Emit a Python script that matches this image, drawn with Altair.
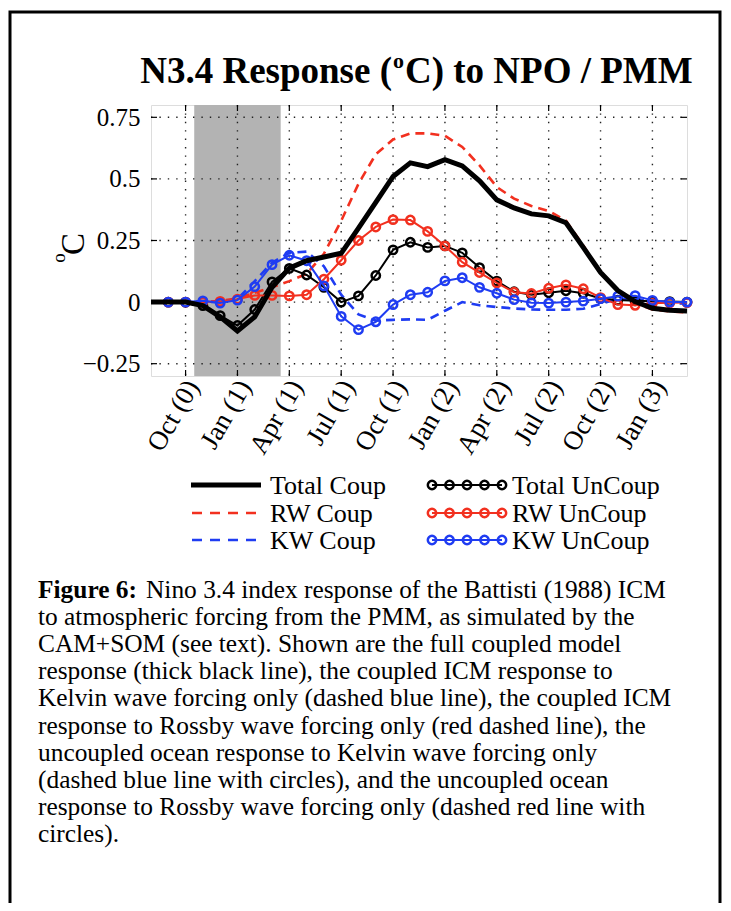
import altair as alt
import pandas as pd

# ---------------- data ----------------
months = list(range(32))          # 0 = Aug(0) ... 31 = Mar(3)
uncoup_months = list(range(1, 32))

total_coup = [0, 0, 0, -0.014, -0.06, -0.117, -0.06, 0.06, 0.138, 0.168, 0.183, 0.198,
              0.3, 0.405, 0.51, 0.565, 0.55, 0.578, 0.553, 0.492, 0.415, 0.382, 0.358,
              0.35, 0.322, 0.222, 0.12, 0.047, 0.002, -0.025, -0.033, -0.036]
rw_coup = [0, 0, 0, 0.0, 0.005, 0.015, 0.038, 0.06, 0.085, 0.115, 0.196, 0.33, 0.48,
           0.6, 0.66, 0.685, 0.685, 0.675, 0.63, 0.555, 0.467, 0.42, 0.39, 0.37, 0.33,
           0.23, 0.12, 0.045, -0.005, -0.03, -0.038, -0.042]
kw_coup = [0, 0, 0, 0.002, 0.0, 0.012, 0.085, 0.16, 0.2, 0.205, 0.145, 0.03, -0.05,
           -0.075, -0.072, -0.07, -0.072, -0.035, 0.0, -0.013, -0.02, -0.026, -0.03,
           -0.031, -0.031, -0.027, -0.008, 0.013, 0.013, 0.004, -0.004, -0.007]
total_uncoup = [0, 0, -0.014, -0.055, -0.095, -0.03, 0.082, 0.137, 0.11, 0.06, 0.0,
                0.025, 0.108, 0.212, 0.243, 0.222, 0.228, 0.2, 0.14, 0.085, 0.042, 0.03,
                0.038, 0.046, 0.036, 0.015, 0.008, 0.005, 0.003, 0.002, 0.0]
rw_uncoup = [0, 0, 0, 0.003, 0.012, 0.027, 0.027, 0.025, 0.03, 0.093, 0.17, 0.25, 0.305,
             0.335, 0.333, 0.287, 0.228, 0.162, 0.12, 0.078, 0.04, 0.035, 0.056, 0.07,
             0.054, 0.018, -0.01, -0.013, -0.005, -0.003, -0.002]
kw_uncoup = [0, 0, 0.005, -0.004, 0.008, 0.063, 0.152, 0.19, 0.168, 0.066, -0.058,
             -0.112, -0.08, -0.01, 0.03, 0.04, 0.086, 0.099, 0.06, 0.036, 0.01, -0.003,
             -0.004, 0.0, 0.004, 0.014, 0.024, 0.026, 0.007, 0.0, 0.0]

tick_months = [2, 5, 8, 11, 14, 17, 20, 23, 26, 29]
tick_labels = ["Oct (0)", "Jan (1)", "Apr (1)", "Jul (1)", "Oct (1)", "Jan (2)",
               "Apr (2)", "Jul (2)", "Oct (2)", "Jan (3)"]
y_ticks = [-0.25, 0, 0.25, 0.5, 0.75]
y_tick_labels = ["\u22120.25", "0", "0.25", "0.5", "0.75"]
shade_span = [2.5, 7.5]

legend_names = ["Total Coup", "RW Coup", "KW Coup", "Total UnCoup", "RW UnCoup", "KW UnCoup"]
title_parts = ["N3.4 Response (", "o", "C) to NPO / PMM"]
caption_lead = "Figure 6:"
caption_lines = [
    "Nino 3.4 index response of the Battisti (1988) ICM",
    "to atmospheric forcing from the PMM, as simulated by the",
    "CAM+SOM (see text).  Shown are the full coupled model",
    "response (thick black line), the coupled ICM response to",
    "Kelvin wave forcing only (dashed blue line), the coupled ICM",
    "response to Rossby wave forcing only (red dashed line), the",
    "uncoupled ocean response to Kelvin wave forcing only",
    "(dashed blue line with circles), and the uncoupled ocean",
    "response to Rossby wave forcing only (dashed red line with",
    "circles).",
]

# ---------------- styling ----------------
W, H = 536, 271
FONT = "Liberation Serif"
RED = "#f2301f"
BLUE = "#1f3cf2"
BLACK = "#000000"

xscale = alt.Scale(domain=[0, 31], nice=False, zero=False)
yscale = alt.Scale(domain=[-0.3, 0.8], nice=False, zero=False)

label_array = [""] * 32
for m, lab in zip(tick_months, tick_labels):
    label_array[m] = lab
x_label_expr = "[" + ",".join("'%s'" % s for s in label_array) + "][datum.value]"
y_label_expr = ("[" + ",".join("'%s'" % s for s in y_tick_labels) + "][indexof(["
                + ",".join(str(v) for v in y_ticks) + "], datum.value)]")

xaxis = alt.Axis(values=tick_months, labelExpr=x_label_expr, labelAngle=300,
                 labelAlign="right", labelBaseline="middle", labelFont=FONT,
                 labelFontSize=27, labelColor=BLACK, labelPadding=6, labelOffset=7,
                 ticks=False, domain=False, grid=False, title=None, labelOverlap=False,
                 labelFlush=False)
yaxis = alt.Axis(values=y_ticks, labelExpr=y_label_expr, labelFont=FONT, labelFontSize=25,
                 labelColor=BLACK, labelPadding=11, ticks=False, domain=False,
                 grid=False, title=None, labelOverlap=False, labelFlush=False)

X = alt.X("month:Q", scale=xscale, axis=xaxis)
Y = alt.Y("value:Q", scale=yscale, axis=yaxis)

layers = []

# shaded forcing period
shade_df = pd.DataFrame({"start": [shade_span[0]], "end": [shade_span[1]]})
layers.append(alt.Chart(shade_df).mark_rect(color="#b3b3b3").encode(
    x=alt.X("start:Q", scale=xscale, axis=xaxis), x2="end:Q",
    y=alt.value(0), y2=alt.value(H)))

# dotted grid
vg = pd.DataFrame({"month": tick_months})
hg = pd.DataFrame({"value": y_ticks})
grid_style = dict(color="#222222", strokeWidth=1.4, strokeDash=[1.4, 7])
layers.append(alt.Chart(vg).mark_rule(**grid_style).encode(
    x=X, y=alt.value(0), y2=alt.value(H)))
layers.append(alt.Chart(hg).mark_rule(**grid_style).encode(
    y=Y, x=alt.value(0), x2=alt.value(W)))

# inward ticks
tk = dict(color=BLACK, strokeWidth=1.2)
layers.append(alt.Chart(hg).mark_rule(**tk).encode(y=Y, x=alt.value(0), x2=alt.value(6)))
layers.append(alt.Chart(hg).mark_rule(**tk).encode(y=Y, x=alt.value(W - 6), x2=alt.value(W)))
layers.append(alt.Chart(vg).mark_rule(**tk).encode(x=X, y=alt.value(H - 6), y2=alt.value(H)))
layers.append(alt.Chart(vg).mark_rule(**tk).encode(x=X, y=alt.value(0), y2=alt.value(6)))


def sdf(xs, ys):
    return pd.DataFrame({"month": xs, "value": ys})


def coup_line(ys, color, width, dash=None):
    kw = dict(color=color, strokeWidth=width, clip=True)
    if dash:
        kw["strokeDash"] = dash
    return alt.Chart(sdf(months, ys)).mark_line(**kw).encode(x=X, y=Y)


def uncoup(ys, color):
    d = sdf(uncoup_months, ys)
    ln = alt.Chart(d).mark_line(color=color, strokeWidth=2).encode(x=X, y=Y)
    pt = alt.Chart(d).mark_point(shape="circle", filled=False, color=color,
                                 strokeWidth=2.5, size=70, opacity=1).encode(x=X, y=Y)
    return [ln, pt]


layers.append(coup_line(rw_coup, RED, 2.6, [9, 6]))
layers.append(coup_line(kw_coup, BLUE, 2.6, [9, 6]))
layers += uncoup(total_uncoup, BLACK)
layers += uncoup(rw_uncoup, RED)
layers += uncoup(kw_uncoup, BLUE)
layers.append(coup_line(total_coup, BLACK, 5))

# ---------------- annotations (chart-pixel coordinates) ----------------
one = pd.DataFrame({"a": [0]})


def text(t, x, y, size, bold=False, align="left", baseline="alphabetic", angle=0):
    kw = dict(font=FONT, fontSize=size, color=BLACK, align=align, baseline=baseline)
    if bold:
        kw["fontWeight"] = "bold"
    if angle:
        kw["angle"] = angle
    return alt.Chart(one).mark_text(**kw).encode(
        x=alt.value(x), y=alt.value(y), text=alt.value(t))


# title
layers.append(text(title_parts[0], 241, -22, 37, bold=True, align="right"))
layers.append(text(title_parts[1], 242, -37, 22, bold=True))
layers.append(text(title_parts[2], 254, -22, 37, bold=True))

# y-axis title (degrees C)
layers.append(text("C", -67, 139, 33, angle=270, align="center"))
layers.append(text("o", -86, 153, 19, angle=270, align="center"))

# legend
rows = [380, 408, 435]
for i, name in enumerate(legend_names[:3]):
    layers.append(text(name, 119, rows[i] + 9, 26))
for i, name in enumerate(legend_names[3:]):
    layers.append(text(name, 361, rows[i] + 9, 26))

layers.append(alt.Chart(one).mark_rule(color=BLACK, strokeWidth=5).encode(
    x=alt.value(40), x2=alt.value(110), y=alt.value(rows[0])))
layers.append(alt.Chart(one).mark_rule(color=RED, strokeWidth=2.6, strokeDash=[10, 8]).encode(
    x=alt.value(41), x2=alt.value(110), y=alt.value(rows[1])))
layers.append(alt.Chart(one).mark_rule(color=BLUE, strokeWidth=2.6, strokeDash=[10, 8]).encode(
    x=alt.value(41), x2=alt.value(110), y=alt.value(rows[2])))

for i, col in enumerate([BLACK, RED, BLUE]):
    layers.append(alt.Chart(one).mark_rule(color=col, strokeWidth=2).encode(
        x=alt.value(281), x2=alt.value(351), y=alt.value(rows[i])))
    for k in range(5):
        layers.append(alt.Chart(one).mark_point(shape="circle", filled=False, color=col,
                                                strokeWidth=2.5, size=70, opacity=1).encode(
            x=alt.value(281 + 17.5 * k), y=alt.value(rows[i])))

# caption
cap_y0 = 493
CAP = 25.4
layers.append(text(caption_lead, -113, cap_y0, CAP, bold=True))
for i, line in enumerate(caption_lines):
    xpos = -5 if i == 0 else -113
    layers.append(text(line, xpos, cap_y0 + 27.1 * i, CAP))

# outer frame
layers.append(alt.Chart(one).mark_rect(fill=None, stroke=BLACK, strokeWidth=3).encode(
    x=alt.value(-141), x2=alt.value(569), y=alt.value(-93), y2=alt.value(830)))

chart = alt.layer(*layers).properties(
    width=W, height=H,
    padding={"left": 143, "top": 97, "right": 36, "bottom": 527},
    autosize=alt.AutoSizeParams(type="none"),
).configure_view(stroke=BLACK, strokeWidth=1.2).configure(background="white")

chart.save("out.html", embed_options={"renderer": "svg", "actions": False})
